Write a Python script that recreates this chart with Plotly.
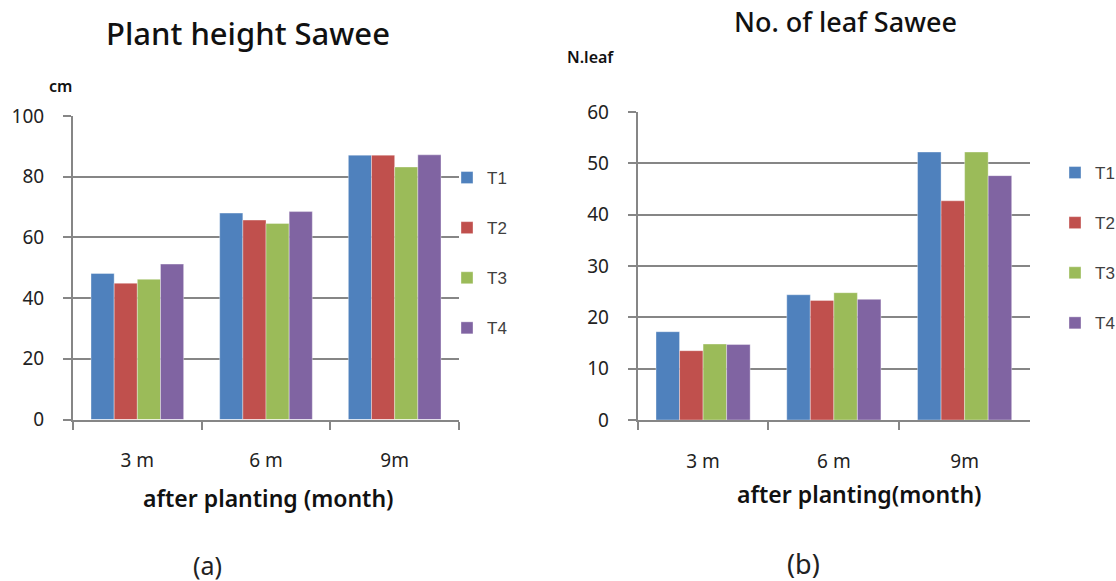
import plotly.graph_objects as go

W, H = 1116, 581

categories = ["3 m", "6 m", "9m"]
series_names = ["T1", "T2", "T3", "T4"]
colors = ["#4F81BD", "#C0504D", "#9BBB59", "#8064A2"]

height_T1 = [48.1, 68.0, 87.1]
height_T2 = [44.9, 65.7, 87.1]
height_T3 = [46.2, 64.6, 83.2]
height_T4 = [51.2, 68.5, 87.2]

leaf_T1 = [17.2, 24.4, 52.2]
leaf_T2 = [13.5, 23.3, 42.7]
leaf_T3 = [14.8, 24.8, 52.2]
leaf_T4 = [14.7, 23.5, 47.6]

height_vals = [height_T1, height_T2, height_T3, height_T4]
leaf_vals = [leaf_T1, leaf_T2, leaf_T3, leaf_T4]

FONT = "Noto Sans"
LEGFONT = "Liberation Sans"
GRID = "#868686"

fig = go.Figure()
for i, name in enumerate(series_names):
    fig.add_trace(go.Bar(
        x=categories, y=height_vals[i], name=name, xaxis="x", yaxis="y",
        marker=dict(color=colors[i], line=dict(color="rgba(255,255,255,0.6)", width=0.6)),
        legend="legend", legendgroup="a" + name,
    ))
for i, name in enumerate(series_names):
    fig.add_trace(go.Bar(
        x=categories, y=leaf_vals[i], name=name, xaxis="x2", yaxis="y2",
        marker=dict(color=colors[i], line=dict(color="rgba(255,255,255,0.6)", width=0.6)),
        legend="legend2", legendgroup="b" + name,
    ))

def px(x):
    return x / W

def py(y):
    return 1 - y / H

xcommon = dict(
    type="category", showgrid=False, showline=True, linecolor=GRID, linewidth=2,
    ticks="outside", tickson="boundaries", ticklen=8, tickcolor=GRID, tickwidth=2,
    tickfont=dict(family=FONT, size=19, color="#222"), ticklabelstandoff=23,
    fixedrange=True, automargin=False,
)
ycommon = dict(
    showgrid=True, gridcolor=GRID, gridwidth=2, showline=True, linecolor=GRID, linewidth=2,
    ticks="outside", ticklen=8, tickcolor=GRID, tickwidth=2,
    tickfont=dict(family=FONT, size=19, color="#222"), ticklabelstandoff=15,
    zeroline=False, fixedrange=True, automargin=False,
)

legcommon = dict(
    font=dict(family=LEGFONT, size=17, color="#404040"), bgcolor="rgba(0,0,0,0)",
    tracegroupgap=25, orientation="v", xanchor="left", yanchor="top",
)

def ann(text, x, y, size, weight=400, color="#111"):
    return dict(text=text, x=px(x), y=py(y), xref="paper", yref="paper",
                xanchor="center", yanchor="middle", showarrow=False,
                font=dict(family=FONT, size=size, color=color, weight=weight))

fig.update_layout(
    width=W, height=H, margin=dict(l=0, r=0, t=0, b=0, autoexpand=False),
    paper_bgcolor="white", plot_bgcolor="white",
    barmode="group", bargap=0.28, bargroupgap=0,
    xaxis=dict(xcommon, domain=[px(73), px(459)], anchor="y"),
    yaxis=dict(ycommon, domain=[py(419.5), py(116)], range=[0, 100], dtick=20, anchor="x"),
    xaxis2=dict(xcommon, domain=[px(637.7), px(1030)], anchor="y2"),
    yaxis2=dict(ycommon, domain=[py(420), py(112)], range=[0, 60], dtick=10, anchor="x2"),
    legend=dict(legcommon, x=px(447), y=py(160)),
    legend2=dict(legcommon, x=px(1055), y=py(155)),
    showlegend=True,
    annotations=[
        ann("Plant height Sawee", 248, 33, 31, 500),
        ann("No. of leaf Sawee", 845, 22, 27, 500),
        ann("cm", 60, 86, 16, 600),
        ann("N.leaf", 590, 57, 16, 600),
        ann("after planting (month)", 268, 498, 23, 600),
        ann("after planting(month)", 860, 494, 23, 600),
        ann("(a)", 207, 565, 25, 400, "#222"),
        ann("(b)", 803, 563, 27, 400, "#222"),
    ],
)

fig.write_html("out.html", config={"displayModeBar": False},
               post_script="document.body.style.margin='0';document.body.style.overflow='hidden';")
